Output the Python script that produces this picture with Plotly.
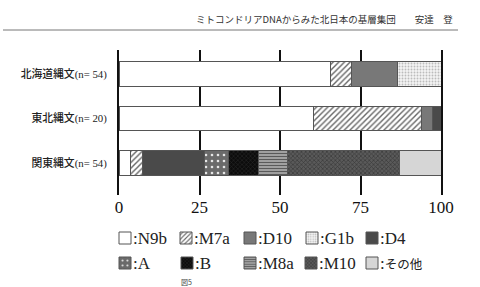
import plotly.graph_objects as go

# ---- data ----
groups = ["関東縄文(n= 54)", "東北縄文(n= 20)", "北海道縄文(n= 54)"]  # bottom -> top
haplogroups = ["N9b", "M7a", "D10", "G1b", "D4", "A", "B", "M8a", "M10", "その他"]
# percentages per group (order: 関東, 東北, 北海道)
values = {
    "N9b":  [3.6, 60.4, 65.8],
    "M7a":  [3.8, 33.6, 6.3],
    "D10":  [None, 3.3, 14.5],
    "G1b":  [None, None, 13.4],
    "D4":   [19.0, 2.7, None],
    "A":    [7.5, None, None],
    "B":    [9.3, None, None],
    "M8a":  [9.2, None, None],
    "M10":  [34.8, None, None],
    "その他": [12.8, None, None],
}
tick_vals = [0, 25, 50, 75, 100]
tick_text = ["0", "25", "50", "75", "100"]

styles = {
    "N9b":  dict(color="#ffffff"),
    "M7a":  dict(color="#ffffff", pattern=dict(shape="/", fgcolor="#666666", bgcolor="#ffffff", size=4, solidity=0.35, fillmode="replace")),
    "D10":  dict(color="#787878"),
    "G1b":  dict(color="#f2f2f2", pattern=dict(shape=".", fgcolor="#bcbcbc", bgcolor="#f4f4f4", size=3, solidity=0.3, fillmode="replace")),
    "D4":   dict(color="#4a4a4a"),
    "A":    dict(color="#6a6a6a", pattern=dict(shape=".", fgcolor="#e6e6e6", bgcolor="#6a6a6a", size=6, solidity=0.15, fillmode="replace")),
    "B":    dict(color="#111111", pattern=dict(shape="x", fgcolor="#2c2c2c", bgcolor="#0c0c0c", size=3, solidity=0.3, fillmode="replace")),
    "M8a":  dict(color="#999999", pattern=dict(shape="-", fgcolor="#5a5a5a", bgcolor="#a8a8a8", size=3, solidity=0.4, fillmode="replace")),
    "M10":  dict(color="#555555", pattern=dict(shape="x", fgcolor="#3a3a3a", bgcolor="#5a5a5a", size=3, solidity=0.4, fillmode="replace")),
    "その他": dict(color="#d6d6d6"),
}

L, R, T, B = 119, 39, 50, 92
W, H = 480, 287
PW, PH = W - L - R, H - T - B
def px(x):
    return (x - L) / PW
def py(y):
    return (H - B - y) / PH

# legend swatch centers (pixels)
legend_pos = {
    "N9b": (125, 238), "M7a": (186, 238), "D10": (250, 238), "G1b": (312, 238), "D4": (372, 238),
    "A": (125, 263), "B": (187, 263), "M8a": (250, 263), "M10": (311, 263), "その他": (372, 263),
}

fig = go.Figure()
layout_legends = {}
for i, h in enumerate(haplogroups):
    lname = "legend" if i == 0 else f"legend{i+1}"
    st = styles[h]
    marker = dict(color=st["color"], line=dict(color="#555555", width=1))
    if "pattern" in st:
        marker["pattern"] = st["pattern"]
    fig.add_trace(go.Bar(
        x=values[h], y=groups, orientation="h", name="",
        marker=marker, legend=lname, width=0.56,
    ))
    cx, cy = legend_pos[h]
    layout_legends[lname] = dict(
        xref="container", yref="container",
        x=(cx - 20) / W, y=1 - cy / H, xanchor="left", yanchor="middle",
        orientation="h", bgcolor="rgba(0,0,0,0)", borderwidth=0,
        font=dict(family="Liberation Serif", size=12, color="#222"),
        itemwidth=30, tracegroupgap=0,
    )
    if h == "その他":
        label = ":<span style='font-family:Noto Sans CJK JP;font-size:12.5px'>その他</span>"
    else:
        label = ":" + h
    fig.add_annotation(xref="paper", yref="paper", x=px(cx + 6), y=py(cy), xanchor="left", yanchor="middle",
                       text=label, showarrow=False,
                       font=dict(family="Liberation Serif", size=17, color="#222"))

fig.update_layout(
    width=W, height=H, margin=dict(l=L, r=R, t=T, b=B, autoexpand=False),
    paper_bgcolor="white", plot_bgcolor="white",
    barmode="stack", bargap=0.44, showlegend=True,
    **layout_legends,
)
fig.update_xaxes(
    range=[0, 100], tickvals=tick_vals, ticktext=tick_text,
    showgrid=True, gridcolor="#111111", gridwidth=2,
    zeroline=False, showline=False, ticks="", automargin=False,
    tickfont=dict(family="Liberation Serif", size=17, color="#111"),
)
fig.update_yaxes(
    categoryorder="array", categoryarray=groups, range=[-0.72, 2.54],
    showgrid=False, zeroline=False, showline=True, mirror=True, automargin=False,
    linecolor="#111111", linewidth=2, ticks="", ticklabelstandoff=8,
    tickfont=dict(family="Liberation Serif, Noto Sans CJK JP", size=10.8, color="#222", weight=500),
)

fig.add_shape(type="line", xref="paper", yref="paper",
              x0=px(3), x1=px(458), y0=py(30), y1=py(30),
              line=dict(color="#777777", width=1))
fig.add_annotation(xref="paper", yref="paper", x=px(455), y=py(19), xanchor="right", yanchor="middle",
                   text="ミトコンドリアDNAからみた北日本の基層集団　　安達　登", showarrow=False,
                   font=dict(family="Noto Sans CJK JP", size=9.5, color="#333"))
fig.add_annotation(xref="paper", yref="paper", x=px(186), y=py(282), xanchor="center", yanchor="middle",
                   text="図5", showarrow=False,
                   font=dict(family="Noto Sans CJK JP", size=7, color="#444"))

fig.write_html("out.html")
